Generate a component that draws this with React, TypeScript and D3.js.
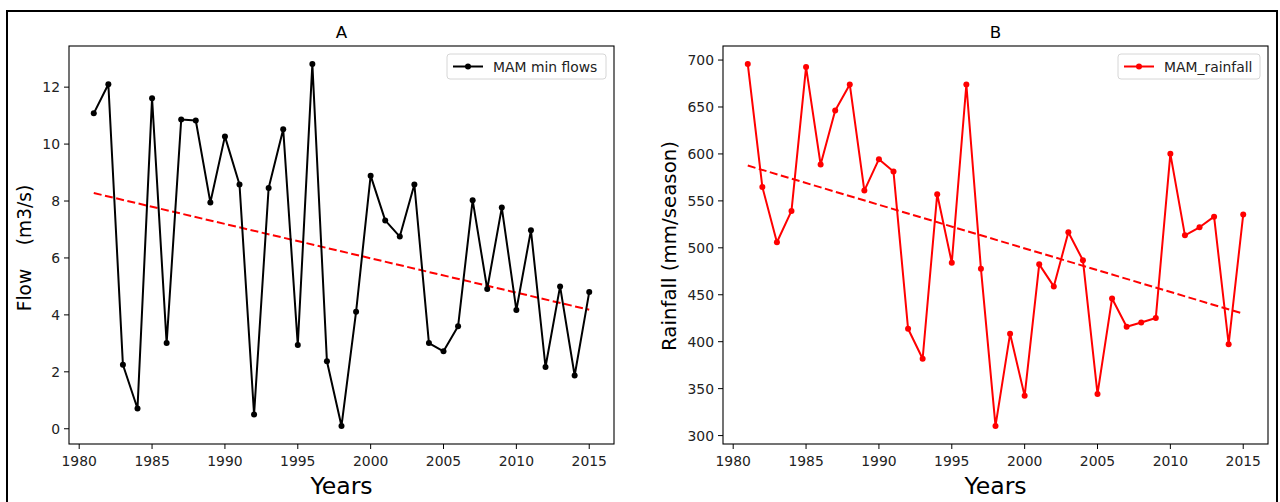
import React from "react";
import * as d3 from "d3";

const years: number[] = d3.range(1981, 2016);

const minFlows: number[] = [
  11.08, 12.1, 2.25, 0.71, 11.61, 3.01, 10.86, 10.83, 7.95, 10.27,
  8.58, 0.5, 8.46, 10.52, 2.94, 12.81, 2.37, 0.1, 4.11, 8.89,
  7.32, 6.75, 8.58, 3.01, 2.72, 3.6, 8.03, 4.91, 7.77, 4.17,
  6.97, 2.17, 5.0, 1.87, 4.8,
];

const rainfall: number[] = [
  695.7, 564.9, 505.9, 539.3, 692.5, 588.7, 646.3, 674.0, 561.0, 594.4,
  581.2, 413.8, 381.8, 557.1, 484.2, 674.0, 477.8, 310.3, 408.4, 342.3,
  482.4, 458.9, 516.5, 486.7, 344.4, 446.1, 415.9, 420.5, 425.2, 600.1,
  513.3, 521.9, 533.2, 397.4, 535.4,
];

// trend line end values (at first and last year)
const trendFlows: number[] = [8.28, 4.18];
const trendRain: number[] = [587.6, 429.8];

const xTicks: number[] = [1980, 1985, 1990, 1995, 2000, 2005, 2010, 2015];
const flowTicks: number[] = [0, 2, 4, 6, 8, 10, 12];
const rainTicks: number[] = [300, 350, 400, 450, 500, 550, 600, 650, 700];

const FONT = "DejaVu Sans, sans-serif";

type PanelProps = {
  left: number;
  right: number;
  top: number;
  bottom: number;
  values: number[];
  trend: number[];
  color: string;
  yTicks: number[];
  title: string;
  yLabel: string;
  yLabelX: number;
  yLabelY: number;
  yLabelSize: number;
  legend: string;
  legendX: number;
  legendW: number;
};

function Panel(p: PanelProps) {
  const x0 = years[0];
  const x1 = years[years.length - 1];
  const xm = (x1 - x0) * 0.05;
  const x = d3.scaleLinear().domain([x0 - xm, x1 + xm]).range([p.left, p.right]);
  const vmin = d3.min(p.values) as number;
  const vmax = d3.max(p.values) as number;
  const ym = (vmax - vmin) * 0.05;
  const y = d3.scaleLinear().domain([vmin - ym, vmax + ym]).range([p.bottom, p.top]);
  const line = d3
    .line<number>()
    .x((_, i) => x(years[i]))
    .y((d) => y(d));
  const trendPath = d3
    .line<number>()
    .x((_, i) => x(i === 0 ? x0 : x1))
    .y((d) => y(d))(p.trend) as string;
  const cx = (p.left + p.right) / 2;
  const ly = p.top + 8;
  return (
    <g>
      <path d={trendPath} fill="none" stroke="#ff0000" strokeWidth={2} strokeDasharray="8,3.5" />
      <path d={line(p.values) as string} fill="none" stroke={p.color} strokeWidth={2} strokeLinejoin="round" />
      {p.values.map((v, i) => (
        <circle key={i} cx={x(years[i])} cy={y(v)} r={3} fill={p.color} />
      ))}
      <rect x={p.left} y={p.top} width={p.right - p.left} height={p.bottom - p.top} fill="none" stroke="#000" strokeWidth={1.1} />
      {xTicks.map((t) => (
        <g key={t}>
          <line x1={x(t)} x2={x(t)} y1={p.bottom} y2={p.bottom + 5} stroke="#000" strokeWidth={1} />
          <text x={x(t)} y={p.bottom + 22} textAnchor="middle" fontSize={13.9} fontFamily={FONT} fill="#222">
            {t}
          </text>
        </g>
      ))}
      {p.yTicks.map((t) => (
        <g key={t}>
          <line x1={p.left - 5} x2={p.left} y1={y(t)} y2={y(t)} stroke="#000" strokeWidth={1} />
          <text x={p.left - 9} y={y(t)} dy="0.36em" textAnchor="end" fontSize={13.9} fontFamily={FONT} fill="#222">
            {t}
          </text>
        </g>
      ))}
      <text x={cx} y={p.top - 8.5} textAnchor="middle" fontSize={16.7} fontFamily={FONT} fill="#000">
        {p.title}
      </text>
      <text x={cx} y={494} textAnchor="middle" fontSize={23.6} fontFamily={FONT} fill="#000">
        Years
      </text>
      <text
        transform={`translate(${p.yLabelX},${p.yLabelY}) rotate(-90)`}
        textAnchor="middle"
        dy="0.36em"
        fontSize={p.yLabelSize}
        fontFamily={FONT}
        fill="#000"
        style={{ whiteSpace: "pre" }}
      >
        {p.yLabel}
      </text>
      <g>
        <rect x={p.legendX} y={ly} width={p.legendW} height={25} rx={3} fill="#fff" fillOpacity={0.8} stroke="#d6d6d6" strokeWidth={1} />
        <line x1={p.legendX + 6} x2={p.legendX + 36} y1={ly + 12.5} y2={ly + 12.5} stroke={p.color} strokeWidth={2} />
        <circle cx={p.legendX + 21} cy={ly + 12.5} r={3} fill={p.color} />
        <text x={p.legendX + 46} y={ly + 17.5} fontSize={13.9} fontFamily={FONT} fill="#222">
          {p.legend}
        </text>
      </g>
    </g>
  );
}

export default function App() {
  return (
    <svg width={1280} height={502} style={{ position: "absolute", left: 0, top: 0, background: "#fff" }}>
      <rect x={0} y={0} width={1280} height={502} fill="#fff" />
      <rect x={7} y={11} width={1270} height={500} fill="none" stroke="#000" strokeWidth={2} />
      <Panel
        left={69}
        right={614}
        top={46}
        bottom={444}
        values={minFlows}
        trend={trendFlows}
        color="#000000"
        yTicks={flowTicks}
        title="A"
        yLabel={"Flow    (m3/s)"}
        yLabelX={24}
        yLabelY={248}
        yLabelSize={18.6}
        legend="MAM min flows"
        legendX={447}
        legendW={159}
      />
      <Panel
        left={723}
        right={1268}
        top={46}
        bottom={444}
        values={rainfall}
        trend={trendRain}
        color="#ff0000"
        yTicks={rainTicks}
        title="B"
        yLabel="Rainfall (mm/season)"
        yLabelX={669}
        yLabelY={246}
        yLabelSize={19.8}
        legend="MAM_rainfall"
        legendX={1118}
        legendW={142}
      />
    </svg>
  );
}
